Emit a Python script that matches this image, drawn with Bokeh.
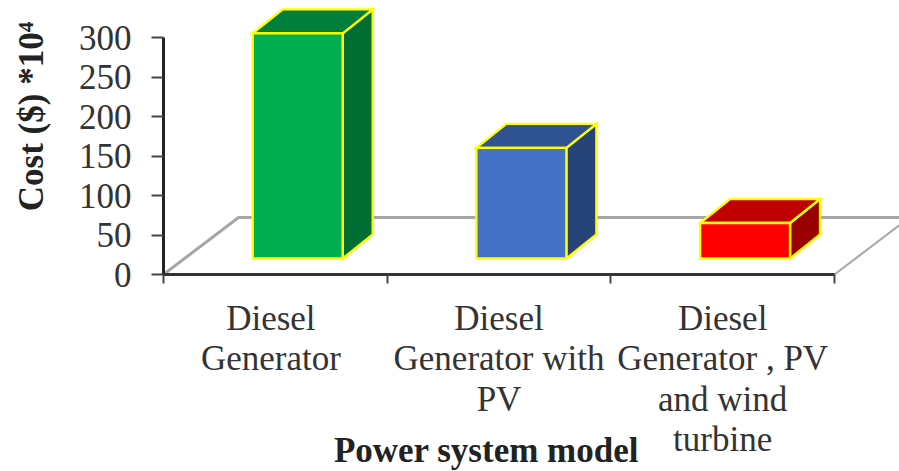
import math
from bokeh.core.properties import value
from bokeh.embed import file_html
from bokeh.resources import INLINE
from bokeh.plotting import figure
from bokeh.models import Range1d, FixedTicker

# Data
models = [["Diesel", "Generator"],
          ["Diesel", "Generator with", "PV"],
          ["Diesel", "Generator , PV", "and wind", "turbine"]]
costs = [285, 140, 45]
front_colors = ["#00B050", "#4472C4", "#FF0000"]
top_colors = ["#007F3A", "#2F5293", "#C00000"]
side_colors = ["#006E32", "#264478", "#990000"]
y_ticks = [0, 50, 100, 150, 200, 250, 300]
x_ticks = [0, 1, 2, 3]
x_title = "Power system model"
y_title = "Cost ($) *10\u2074"

# Scale: the frame fills the page; the origin of the axes lies at pixel (163, 274)
W, H = 899, 471
X0, Y0 = 163, 274
PX_X = 223.67   # px per category
PX_Y = 0.79     # px per cost unit
FONT = "Liberation Serif"


def dx(px):
    return px / PX_X


def dy(px):
    return px / PX_Y


p = figure(width=W, height=H, output_backend="svg", toolbar_location=None,
           x_range=Range1d(dx(-X0), dx(W - X0)), y_range=Range1d(dy(Y0 - H), dy(Y0)),
           min_border_left=0, min_border_right=0, min_border_top=0, min_border_bottom=0)
p.outline_line_color = None
p.grid.visible = False

# Floor of the 3D chart
fx, fy = dx(75), dy(57)
p.line([0, fx, dx(W - X0) + 1], [0, fy, fy], line_color="#A6A6A6", line_width=3)
p.line([3, 3 + fx], [0, fy], line_color="#A6A6A6", line_width=2)

# 3D bars
bar_w = dx(90)
bar_dx, bar_dy = dx(30), dy(24)
base = dy(16)
for i, c in enumerate(costs):
    left = i + 0.6 - bar_w / 2
    right = left + bar_w
    low, high = base, base + c
    style = dict(line_color="#FFFF00", line_width=2.4, line_join="miter")
    p.patch([right, right + bar_dx, right + bar_dx, right],
            [low, low + bar_dy, high + bar_dy, high], fill_color=side_colors[i], **style)
    p.patch([left, left + bar_dx, right + bar_dx, right],
            [high, high + bar_dy, high + bar_dy, high], fill_color=top_colors[i], **style)
    p.patch([left, right, right, left], [low, low, high, high], fill_color=front_colors[i], **style)

# Axes, pinned to the origin
xa = p.xaxis[0]
xa.fixed_location = 0
xa.ticker = FixedTicker(ticks=x_ticks)
xa.bounds = (0, 3)
xa.major_label_text_font_size = "0px"
xa.major_label_text_color = None
xa.axis_line_color = "#333333"
xa.axis_line_width = 3
xa.major_tick_line_color = "#444444"
xa.major_tick_line_width = 2
xa.major_tick_out = 9
xa.major_tick_in = 0
xa.minor_tick_line_color = None

ya = p.yaxis[0]
ya.fixed_location = 0
ya.ticker = FixedTicker(ticks=y_ticks)
ya.bounds = (0, 300)
ya.major_label_text_font = FONT
ya.major_label_text_font_size = "35px"
ya.major_label_text_color = "#333333"
ya.major_label_standoff = 20
ya.axis_line_color = "#222222"
ya.axis_line_width = 3
ya.major_tick_line_color = "#444444"
ya.major_tick_line_width = 2
ya.major_tick_out = 12
ya.major_tick_in = 0
ya.minor_tick_line_color = None

# Category labels, one text per line
label_x = [0.48, 1.5, 2.5]
line_y = [318, 358, 399, 439]
for i, lines in enumerate(models):
    for line, y in zip(lines, line_y):
        p.text([label_x[i]], [dy(Y0 - y)], text=[line], text_font=value(FONT), text_font_size="35px",
               text_color="#333333", text_align="center", text_baseline="middle")

p.text([dx(486 - X0)], [dy(Y0 - 450)], text=[x_title], text_font=value(FONT), text_font_size="35px",
       text_font_style="bold", text_color="#222222", text_align="center", text_baseline="middle")
p.text([dx(31 - X0)], [dy(Y0 - 116)], text=[y_title], angle=math.pi / 2, text_font=value(FONT),
       text_font_size="35px", text_font_style="bold", text_color="#222222",
       text_align="center", text_baseline="middle")

open("out.html", "w").write(file_html(p, INLINE))
